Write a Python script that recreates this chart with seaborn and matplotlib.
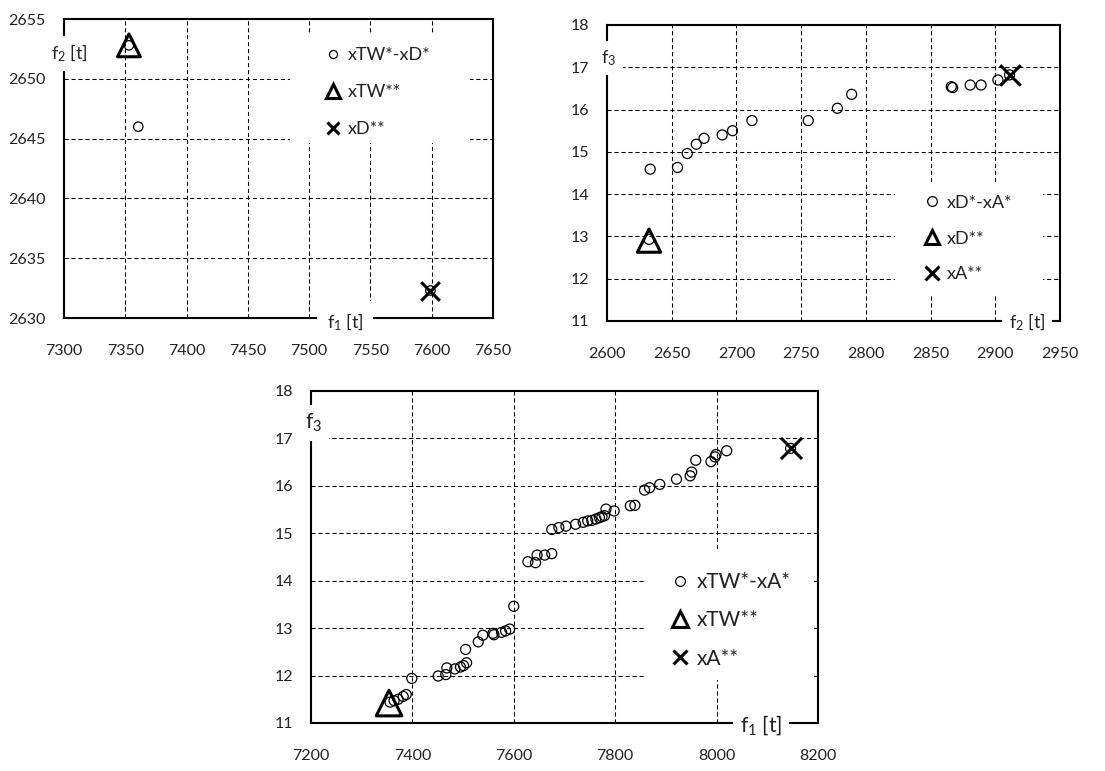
import numpy as np
import pandas as pd
import seaborn as sns
import matplotlib.pyplot as plt
from matplotlib.lines import Line2D
from matplotlib.patches import Rectangle

# ---- top-left panel: f1 vs f2 ----
tl_front_f1 = [7353, 7360.6, 7599]
tl_front_f2 = [2652.8, 2646.0, 2632.3]
tl_tw_f1 = [7353]
tl_tw_f2 = [2652.8]
tl_d_f1 = [7599]
tl_d_f2 = [2632.3]
tl_labels = ["xTW*-xD*", "xTW**", "xD**"]

# ---- top-right panel: f2 vs f3 ----
tr_front_f2 = [2632.5, 2633.4, 2654.5, 2662, 2669, 2675, 2689, 2697, 2712,
               2755.5, 2778, 2789, 2866, 2867, 2880.6, 2889, 2902, 2911]
tr_front_f3 = [12.93, 14.59, 14.63, 14.96, 15.18, 15.32, 15.40, 15.50, 15.74,
               15.74, 16.03, 16.36, 16.54, 16.52, 16.58, 16.58, 16.70, 16.82]
tr_d_f2 = [2632.5]
tr_d_f3 = [12.9]
tr_a_f2 = [2911]
tr_a_f3 = [16.82]
tr_labels = ["xD*-xA*", "xD**", "xA**"]

# ---- bottom panel: f1 vs f3 ----
b_front_f1 = [7356, 7364, 7372, 7382, 7388, 7399, 7451, 7466, 7468, 7484,
              7495, 7501, 7507, 7505, 7530, 7539, 7559, 7561, 7576, 7584,
              7592, 7600, 7628, 7643, 7646, 7661, 7675, 7675, 7689, 7703,
              7722, 7737, 7746, 7754, 7762, 7769, 7774, 7779, 7782, 7798,
              7830, 7839, 7858, 7868, 7888, 7921, 7948, 7951, 7959, 7989,
              7997, 7999, 8020, 8146]
b_front_f3 = [11.44, 11.47, 11.50, 11.56, 11.60, 11.94, 11.99, 12.02, 12.16, 12.14,
              12.18, 12.21, 12.27, 12.55, 12.71, 12.85, 12.89, 12.86, 12.91, 12.94,
              12.98, 13.46, 14.40, 14.38, 14.54, 14.54, 14.57, 15.08, 15.12, 15.15,
              15.19, 15.23, 15.26, 15.27, 15.30, 15.33, 15.35, 15.37, 15.51, 15.47,
              15.58, 15.59, 15.91, 15.96, 16.03, 16.14, 16.21, 16.29, 16.54, 16.51,
              16.61, 16.66, 16.74, 16.79]
b_tw_f1 = [7354]
b_tw_f3 = [11.42]
b_a_f1 = [8146]
b_a_f3 = [16.79]
b_labels = ["xTW*-xA*", "xTW**", "xA**"]

sns.set_theme(style="white")
plt.rcParams["font.family"] = ["Lato", "DejaVu Sans"]
plt.rcParams["mathtext.fontset"] = "custom"
plt.rcParams["mathtext.rm"] = "Lato"
plt.rcParams["mathtext.it"] = "Lato"
plt.rcParams["mathtext.default"] = "regular"

GRID_LS = (0, (4, 2.7))


def style_axes(ax, xlim, ylim, xstep, ystep):
    ax.set_xlim(xlim)
    ax.set_ylim(ylim)
    ax.set_xticks(np.arange(xlim[0], xlim[1] + xstep / 2, xstep))
    ax.set_yticks(np.arange(ylim[0], ylim[1] + ystep / 2, ystep))
    ax.grid(True, color="black", linestyle=GRID_LS, linewidth=0.75)
    ax.set_axisbelow(True)
    for sp in ax.spines.values():
        sp.set_color("black")
        sp.set_linewidth(1.5)
    ax.tick_params(axis="both", length=0, labelsize=11.5, colors="#222222")
    ax.tick_params(axis="x", pad=19)
    ax.tick_params(axis="y", pad=13)
    ax.set_xlabel("")
    ax.set_ylabel("")


def draw_points(ax, fx, fy, sx, sy, ex, ey, sizes):
    sns.scatterplot(x=fx, y=fy, ax=ax, marker="o", s=sizes[0], facecolor="none",
                    edgecolor="black", linewidth=0.9, zorder=3, legend=False)
    sns.scatterplot(x=sx, y=sy, ax=ax, marker="^", s=sizes[1], facecolor="none",
                    edgecolor="black", linewidth=2.2, zorder=4, legend=False)
    sns.scatterplot(x=ex, y=ey, ax=ax, marker="x", s=sizes[2], color="black",
                    linewidth=2.2, zorder=4, legend=False)


def add_legend(ax, labels, fontsize, anchor, ms, spacing):
    handles = [
        Line2D([], [], linestyle="none", marker="o", markersize=ms[0],
               markerfacecolor="none", markeredgecolor="black", markeredgewidth=0.9),
        Line2D([], [], linestyle="none", marker="^", markersize=ms[1],
               markerfacecolor="none", markeredgecolor="black", markeredgewidth=2.2),
        Line2D([], [], linestyle="none", marker="x", markersize=ms[2],
               color="black", markeredgewidth=2.2),
    ]
    leg = ax.legend(handles, labels, loc="upper left", bbox_to_anchor=anchor,
                    frameon=False, fontsize=fontsize, handlelength=0.8,
                    handletextpad=0.4, labelspacing=spacing, borderpad=0,
                    borderaxespad=0)
    for t in leg.get_texts():
        t.set_color("#222222")


def white_box(ax, x0, y0, w, h):
    ax.add_patch(Rectangle((x0, y0), w, h, transform=ax.transAxes,
                           facecolor="white", edgecolor="none", zorder=1))


def axis_label(ax, text, x, y, size, pad):
    ax.text(x, y, text, transform=ax.transAxes, ha="center", va="center",
            fontsize=size, color="#222222", zorder=6, clip_on=False,
            bbox=dict(facecolor="white", edgecolor="none", pad=pad))


fig = plt.figure(figsize=(11.05, 7.71), dpi=100)

# top-left
ax1 = fig.add_axes([0.0579, 0.5875, 0.3882, 0.3878])
style_axes(ax1, (7300, 7650), (2630, 2655), 50, 5)
draw_points(ax1, tl_front_f1, tl_front_f2, tl_tw_f1, tl_tw_f2, tl_d_f1, tl_d_f2,
            (46, 270, 180))
white_box(ax1, 0.527, 0.585, 0.42, 0.368)
add_legend(ax1, tl_labels, 13, (0.611, 0.905), (5.8, 10, 9), 1.15)
axis_label(ax1, r"f$_2$ [t]", 0.012, 0.886, 13, 5)
axis_label(ax1, r"f$_1$ [t]", 0.655, -0.013, 13, 7)

# top-right
ax2 = fig.add_axes([0.5493, 0.5837, 0.41, 0.3839])
style_axes(ax2, (2600, 2950), (11, 18), 50, 1)
draw_points(ax2, tr_front_f2, tr_front_f3, tr_d_f2, tr_d_f3, tr_a_f2, tr_a_f3,
            (52, 280, 220))
white_box(ax2, 0.636, 0.088, 0.327, 0.378)
add_legend(ax2, tr_labels, 13, (0.7016, 0.4265), (7, 10, 9.5), 1.1)
axis_label(ax2, r"f$_3$", 0.003, 0.889, 13, 5)
axis_label(ax2, r"f$_2$ [t]", 0.927, -0.003, 13, 5)

# bottom
ax3 = fig.add_axes([0.2814, 0.0623, 0.4588, 0.4306])
style_axes(ax3, (7200, 8200), (11, 18), 200, 1)
draw_points(ax3, b_front_f1, b_front_f3, b_tw_f1, b_tw_f3, b_a_f1, b_a_f3,
            (52, 340, 230))
white_box(ax3, 0.659, 0.13, 0.329, 0.386)
add_legend(ax3, b_labels, 15, (0.711, 0.455), (7, 11, 9.5), 0.88)
axis_label(ax3, r"f$_3$", 0.005, 0.904, 15, 5)
axis_label(ax3, r"f$_1$ [t]", 0.888, -0.006, 15, 5)

fig.savefig("out.png", dpi=100)
